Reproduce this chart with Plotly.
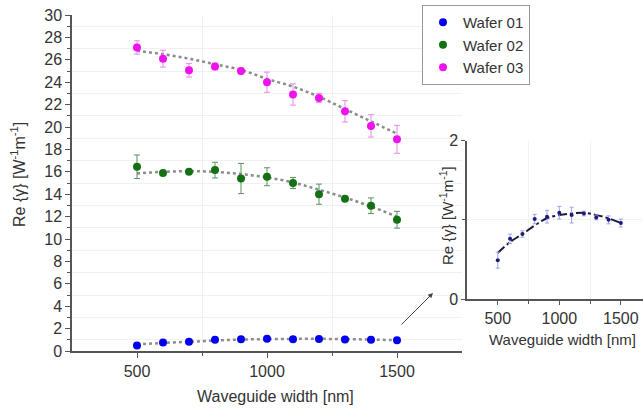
import plotly.graph_objects as go

width_nm = [500, 600, 700, 800, 900, 1000, 1100, 1200, 1300, 1400, 1500]

wafer01 = [0.49, 0.76, 0.82, 1.01, 1.04, 1.09, 1.06, 1.08, 1.03, 1.00, 0.96]
wafer01_err = [0.10, 0.06, 0.04, 0.06, 0.08, 0.08, 0.10, 0.03, 0.03, 0.05, 0.05]
wafer01_fit = [0.58, 0.72, 0.82, 0.93, 1.02, 1.06, 1.08, 1.09, 1.06, 1.02, 0.96]

wafer02 = [16.45, 15.9, 16.0, 16.15, 15.4, 15.56, 15.0, 14.0, 13.6, 12.97, 11.72]
wafer02_err = [1.05, 0.2, 0.15, 0.7, 1.35, 0.8, 0.5, 0.9, 0.2, 0.7, 0.75]
wafer02_fit = [15.85, 16.0, 16.05, 16.0, 15.8, 15.5, 15.05, 14.4, 13.7, 12.9, 12.0]

wafer03 = [27.1, 26.1, 25.06, 25.4, 25.0, 24.0, 22.9, 22.6, 21.4, 20.1, 18.9]
wafer03_err = [0.6, 0.75, 0.6, 0.3, 0.25, 0.9, 0.95, 0.4, 0.95, 1.0, 1.25]
wafer03_fit = [26.8, 26.5, 26.1, 25.6, 25.1, 24.3, 23.6, 22.7, 21.6, 20.5, 19.4]

series = [
    ("Wafer 01", wafer01, wafer01_err, wafer01_fit, "#0000f0", "#7a7af0"),
    ("Wafer 02", wafer02, wafer02_err, wafer02_fit, "#137013", "#5f8f5f"),
    ("Wafer 03", wafer03, wafer03_err, wafer03_fit, "#f010f0", "#e58ae5"),
]

FONT = "Arial, 'Liberation Sans', sans-serif"
W, H = 643, 410

def px_x(px):
    return px / W

def px_y(py):
    return 1 - py / H

fig = go.Figure()

# fits (main)
for name, vals, err, fit, col, ecol in series:
    fig.add_trace(go.Scatter(
        x=width_nm, y=fit, mode="lines", line=dict(color="#8c8c8c", width=2.5, dash="dot", shape="spline"),
        showlegend=False, hoverinfo="skip", xaxis="x", yaxis="y"))

for name, vals, err, fit, col, ecol in series:
    fig.add_trace(go.Scatter(
        x=width_nm, y=vals, mode="markers", name=name,
        marker=dict(color=col, size=8),
        error_y=dict(type="data", array=err, visible=True, color=ecol, thickness=1, width=3),
        xaxis="x", yaxis="y"))

# inset
fig.add_trace(go.Scatter(
    x=width_nm, y=wafer01_fit, mode="lines",
    line=dict(color="#1a1a40", width=2, dash="dashdot", shape="spline"),
    showlegend=False, hoverinfo="skip", xaxis="x2", yaxis="y2"))
fig.add_trace(go.Scatter(
    x=width_nm, y=wafer01, mode="markers", showlegend=False,
    marker=dict(color="#1c1c80", size=4),
    error_y=dict(type="data", array=wafer01_err, visible=True, color="#a0a0e8", thickness=1, width=2),
    xaxis="x2", yaxis="y2"))

axis_common = dict(
    showline=True, linecolor="#555555", linewidth=1.5, ticks="outside", tickcolor="#555555",
    tickfont=dict(family=FONT, size=16, color="#333333"), showgrid=False, zeroline=False,
    automargin=False, fixedrange=True,
)

fig.update_layout(
    width=W, height=H,
    margin=dict(l=0, r=0, t=0, b=0),
    paper_bgcolor="white", plot_bgcolor="white",
    font=dict(family=FONT, size=16, color="#333333"),
    showlegend=True,
    legend=dict(x=px_x(422), y=px_y(5), xanchor="left", yanchor="top",
                bordercolor="#999999", borderwidth=1, bgcolor="white",
                font=dict(family=FONT, size=15, color="#333333"),
                itemwidth=30, tracegroupgap=0),
    xaxis=dict(axis_common, domain=[px_x(72), px_x(462)], range=[250, 1750],
               tickvals=[500, 1000, 1500], ticklen=5, anchor="y",
               minor=dict(tickvals=[750, 1250], ticklen=3, showgrid=True, gridcolor="#f0f0f0", ticks="outside", tickcolor="#555555")),
    yaxis=dict(axis_common, domain=[px_y(351), px_y(15)], range=[0, 30],
               tickmode="linear", tick0=0, dtick=2, ticklen=5, anchor="x",
               minor=dict(dtick=1, ticklen=3, showgrid=True, gridcolor="#f0f0f0", ticks="outside", tickcolor="#555555")),
    xaxis2=dict(axis_common, domain=[px_x(467), 1.0], range=[250, 1680],
                tickvals=[500, 1000, 1500], ticklen=4, anchor="y2",
                minor=dict(tickvals=[750, 1250], ticklen=3, showgrid=True, gridcolor="#f2f2f2", ticks="outside", tickcolor="#555555")),
    yaxis2=dict(axis_common, domain=[px_y(299), px_y(140.7)], range=[0, 2],
                tickvals=[0, 2], ticklen=4, anchor="x2",
                minor=dict(tickvals=[1], ticklen=3, showgrid=True, gridcolor="#f2f2f2", ticks="outside", tickcolor="#555555")),
)

ytitle = "Re {γ} [W<sup>-1</sup>m<sup>-1</sup>]"
xtitle = "Waveguide width [nm]"
fig.add_annotation(x=px_x(18), y=px_y(175), xref="paper", yref="paper", text=ytitle,
                   xanchor="center", yanchor="middle",
                   textangle=-90, showarrow=False, font=dict(family=FONT, size=16, color="#333333"))
fig.add_annotation(x=px_x(275), y=px_y(396), xref="paper", yref="paper", text=xtitle,
                   xanchor="center", yanchor="middle",
                   showarrow=False, font=dict(family=FONT, size=16, color="#333333"))
fig.add_annotation(x=px_x(446), y=px_y(215), xref="paper", yref="paper", text=ytitle,
                   xanchor="center", yanchor="middle",
                   textangle=-90, showarrow=False, font=dict(family=FONT, size=15, color="#333333"))
fig.add_annotation(x=px_x(487), y=px_y(339), xref="paper", yref="paper", text=xtitle,
                   xanchor="left", yanchor="middle", showarrow=False,
                   font=dict(family=FONT, size=15, color="#333333"))
# arrow pointing to inset
fig.add_annotation(x=px_x(433), y=px_y(293), xref="paper", yref="paper",
                   ax=-33, ay=33, text="", showarrow=True, arrowhead=2, arrowsize=1,
                   arrowwidth=1, arrowcolor="#444444")

fig.write_html("out.html", config={"displayModeBar": False},
               post_script="document.body.style.margin='0px';document.body.style.overflow='hidden';")
